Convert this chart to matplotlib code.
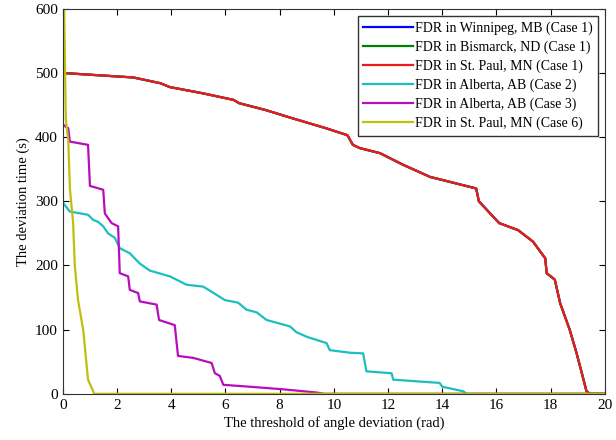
#Recreation of the deviation time vs. angle threshold chart
import matplotlib.pyplot as plt
import numpy as np

plt.rcParams['font.family'] = ['Liberation Serif', 'DejaVu Serif']

#Case 1 (St. Paul) - Winnipeg and Bismarck lie underneath it
x_case1 = [0, 1.1, 2.6, 3.6, 3.95, 5.2, 6.3, 6.5, 7.5, 8.5, 9.7, 10.5, 10.7, 10.95,
           11.7, 12.55, 13.55, 15.25, 15.35, 16.1, 16.8, 17.35, 17.8, 17.85, 18.15, 18.35,
           18.7, 18.95, 19.15, 19.32, 19.45, 20]
y_case1 = [500, 497, 493, 484, 478, 468, 458, 453, 442, 429, 414, 403, 388, 383,
           375, 357, 338, 320, 300, 266, 255, 237, 211, 188, 178, 141,
           100, 64, 32, 4, 0, 0]

#Case 2 (Alberta)
x_case2 = [0, 0.26, 0.93, 1.12, 1.3, 1.49, 1.67, 1.92, 2.1, 2.47, 2.84, 3.21, 3.95,
           4.56, 5.18, 5.49, 5.98, 6.47, 6.78, 7.15, 7.52, 8.38, 8.62, 8.99, 9.73,
           9.85, 10.6, 11.08, 11.2, 12.13, 12.19, 13.9, 14.0, 14.77, 14.9, 20]
y_case2 = [298, 284, 279, 271, 268, 261, 250, 243, 227, 219, 203, 192, 183,
           170, 167, 159, 146, 142, 131, 127, 115, 105, 96, 89, 79,
           68, 64, 63, 35, 32, 22, 17, 11, 4, 0, 0]

#Case 3 (Alberta)
x_case3 = [0, 0.14, 0.2, 0.26, 0.93, 1.0, 1.49, 1.55, 1.8, 2.04, 2.1, 2.41, 2.47,
           2.78, 2.84, 3.46, 3.55, 4.13, 4.25, 4.81, 5.49, 5.61, 5.79, 5.92, 6.9,
           8.13, 9.36, 9.65, 20]
y_case3 = [420, 415, 414, 393, 388, 324, 318, 281, 266, 261, 188, 183, 162,
           157, 144, 139, 115, 107, 59, 56, 48, 32, 28, 14, 11,
           7, 2, 0, 0]

#Case 6 (St. Paul)
x_case6 = [0.03, 0.05, 0.11, 0.2, 0.26, 0.38, 0.44, 0.56, 0.75, 0.87, 0.93, 1.12, 1.15, 20]
y_case6 = [620, 600, 427, 396, 320, 266, 201, 146, 100, 48, 22, 4, 0, 0]

fig = plt.figure(figsize=(6.16, 4.4), dpi=100)
ax = fig.add_axes([0.102, 0.105, 0.88, 0.875])

lw = 1.6
ax.plot(x_case1, y_case1, color=(0, 0, 1), lw=lw, label='FDR in Winnipeg, MB (Case 1)')
ax.plot(x_case1, y_case1, color=(0, 0.5, 0), lw=lw, label='FDR in Bismarck, ND (Case 1)')
ax.plot(x_case1, y_case1, color=(0.93, 0.1, 0.1), lw=lw, label='FDR in St. Paul, MN (Case 1)')
ax.plot(x_case2, y_case2, color=(0.1, 0.75, 0.75), lw=lw, label='FDR in Alberta, AB (Case 2)')
ax.plot(x_case3, y_case3, color=(0.72, 0.05, 0.75), lw=lw, label='FDR in Alberta, AB (Case 3)')
ax.plot(x_case6, y_case6, color=(0.75, 0.75, 0.05), lw=lw, label='FDR in St. Paul, MN (Case 6)')

ax.set_xlim(0, 20)
ax.set_ylim(0, 600)
ax.set_xticks(np.arange(0, 21, 2))
ax.set_yticks(np.arange(0, 601, 100))
ax.tick_params(direction='in', top=True, right=True, labelsize=11, length=4)
for s in ax.spines.values():
    s.set_color('#333333')

#naming the axes
ax.set_xlabel('The threshold of angle deviation (rad)', fontsize=10.5, labelpad=3)
ax.set_ylabel('The deviation time (s)', fontsize=10.5, labelpad=4)

ax.legend(loc='upper right', fontsize=10, handlelength=3.6, handletextpad=0.1,
          labelspacing=0.4, borderpad=0.4, fancybox=False, edgecolor='#333333',
          framealpha=1, borderaxespad=0.5)

fig.savefig('out.png', dpi=100)
